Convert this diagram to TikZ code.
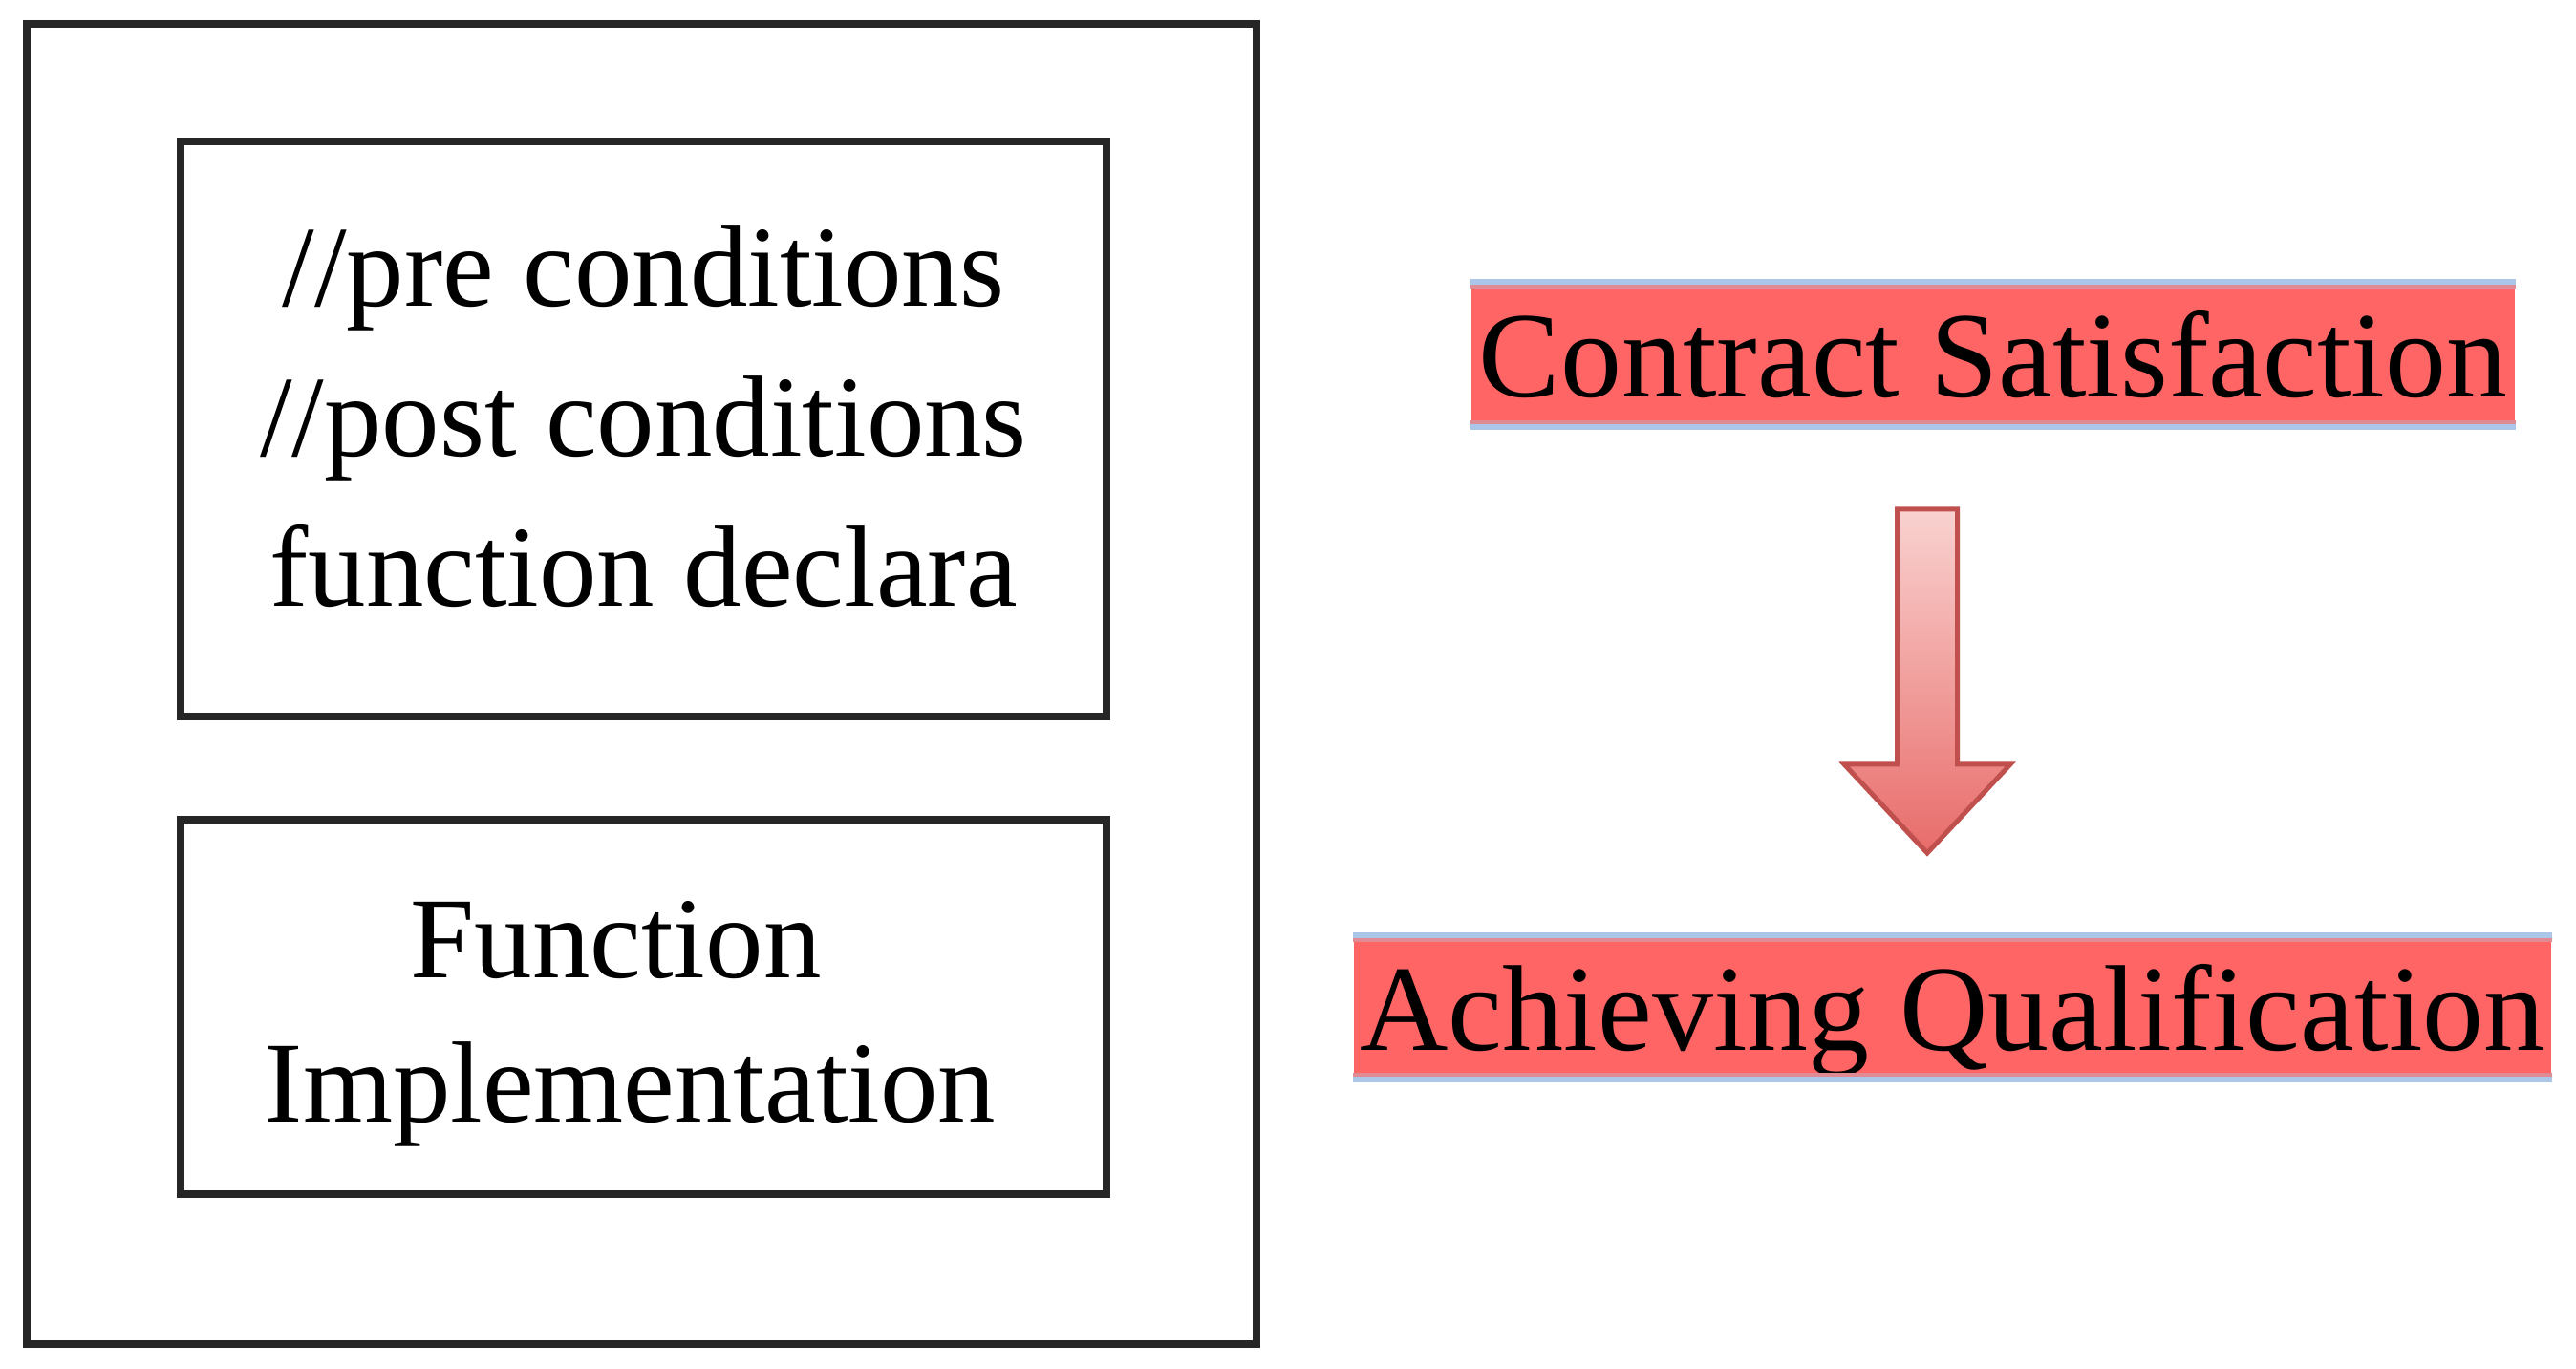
\documentclass[tikz,border=0pt]{standalone}
\usepackage{fontspec}
\setmainfont{Liberation Serif}
\definecolor{frame}{RGB}{38,38,38}
\definecolor{hlred}{RGB}{255,101,101}
\definecolor{hlblue}{RGB}{172,198,234}
\definecolor{hlpink}{RGB}{224,138,148}
\definecolor{arrline}{RGB}{192,80,77}
\definecolor{arrlight}{RGB}{249,210,208}
\definecolor{arrdark}{RGB}{232,108,106}
\begin{document}
\begin{tikzpicture}[
	box/.style={draw=frame, line width=0.075cm, inner sep=0pt},
	code/.style={align=center, inner sep=0pt},
	hilite/.style={fill=hlred, inner sep=0pt, text height=1.17cm, text depth=0.27cm,
		minimum height=1.44cm, font=\fontsize{36.4}{43}\selectfont}]
	\useasboundingbox (0,0) rectangle (26.96,14.33);
	\node[box, minimum width=12.87cm, minimum height=13.82cm] (outer) at (6.715,7.17) {};
	\node[box, minimum width=9.69cm, minimum height=6.02cm] (decl) at (6.735,9.84) {};
	\node[box, minimum width=9.69cm, minimum height=3.92cm] (impl) at (6.735,3.79) {};
	\node[code, font=\fontsize{34.4}{44.7}\selectfont] (decltxt) at ([yshift=0.13cm]decl.center)
		{//pre conditions\\//post conditions\\function declara};
	\node[code, font=\fontsize{34.4}{43}\selectfont] (impltxt) at ([xshift=-0.14cm, yshift=-0.18cm]impl.center)
		{Function\hspace*{0.3cm}\\Implementation};
	\node[hilite, minimum width=10.92cm] (cs) at (20.86,10.62) {Contract Satisfaction};
	\node[hilite, minimum width=12.53cm] (aq) at (20.435,3.785) {Achieving Qualification};
	\foreach \n in {cs,aq} {
		\draw[hlblue, line width=0.06cm] ([yshift=0.03cm]\n.north west) -- ([yshift=0.03cm]\n.north east);
		\draw[hlblue, line width=0.06cm] ([yshift=-0.03cm]\n.south west) -- ([yshift=-0.03cm]\n.south east);
		\draw[hlpink, line width=0.04cm] ([yshift=-0.02cm]\n.north west) -- ([yshift=-0.02cm]\n.north east);
		\draw[hlpink, line width=0.04cm] ([yshift=0.02cm]\n.south west) -- ([yshift=0.02cm]\n.south east);
	}
	\coordinate (arr) at (20.17,9.00);
	\shade[top color=arrlight, bottom color=arrdark, draw=arrline, line width=0.05cm]
		(arr) ++(-0.315,0) -- ++(0.63,0) -- ++(0,-2.67) -- ++(0.555,0) -- ++(-0.87,-0.93)
		-- ++(-0.87,0.93) -- ++(0.555,0) -- cycle;
\end{tikzpicture}
\end{document}
